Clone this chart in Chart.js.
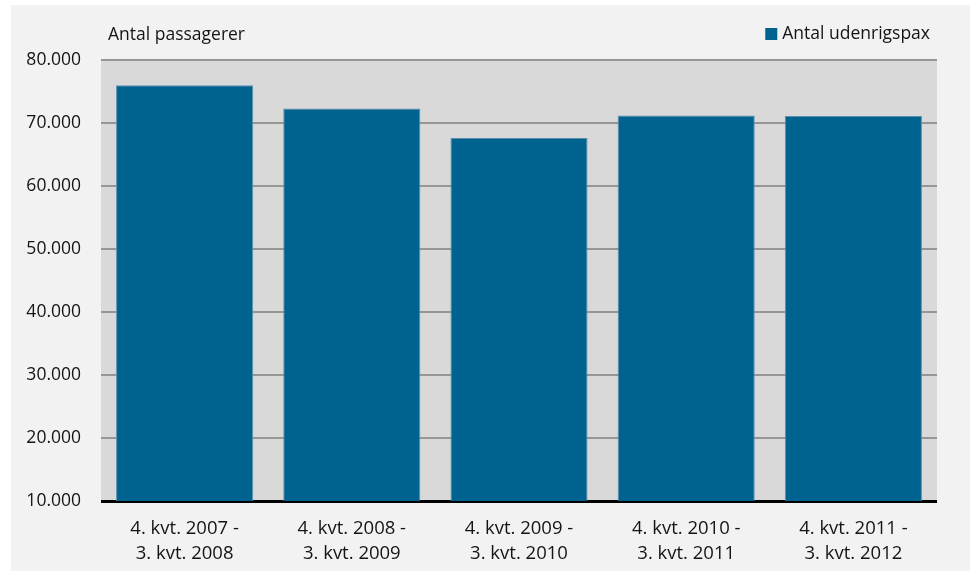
<!DOCTYPE html>
<html>
<head>
<meta charset="utf-8">
<script src="https://cdn.jsdelivr.net/npm/chart.js@4"></script>
<style>
  body { margin: 0; background: #ffffff; }
  #wrap { width: 972px; height: 571px; position: relative; }
</style>
</head>
<body>
<div id="wrap"><canvas id="chart"></canvas></div>
<script>
// Data
const categories = [
    ['4. kvt. 2007 -', '3. kvt. 2008'],
    ['4. kvt. 2008 -', '3. kvt. 2009'],
    ['4. kvt. 2009 -', '3. kvt. 2010'],
    ['4. kvt. 2010 -', '3. kvt. 2011'],
    ['4. kvt. 2011 -', '3. kvt. 2012']
];
const udenrigspax = [76000, 72300, 67600, 71200, 71100];
const seriesName = 'Antal udenrigspax';
const axisTitle = 'Antal passagerer';
const yMin = 10000;
const yMax = 80000;
const yStep = 10000;

const FONT = "'Open Sans', sans-serif";
const TEXT = '#141414';
const BAR = '#00628f';

// thousands with a dot, e.g. 80.000
function fmt(v) {
    return v.toLocaleString('de-DE');
}

// page background, plot background, title text and legend
const decor = {
    id: 'decor',
    beforeDraw(chart) {
        const { ctx, chartArea: a } = chart;
        ctx.save();
        ctx.fillStyle = '#ffffff';
        ctx.fillRect(0, 0, chart.width, chart.height);
        ctx.fillStyle = '#f2f2f2';
        ctx.fillRect(11, 5, 959, 566);
        ctx.fillStyle = '#d9d9d9';
        ctx.fillRect(a.left, a.top, a.right - a.left, a.bottom - a.top);
        ctx.restore();
    },
    afterDraw(chart) {
        const { ctx, chartArea: a } = chart;
        ctx.save();
        ctx.fillStyle = TEXT;
        ctx.font = '17.5px ' + FONT;
        ctx.textBaseline = 'middle';
        ctx.textAlign = 'left';
        ctx.fillText(axisTitle, a.left + 7, 35);

        // legend, right aligned
        ctx.textAlign = 'right';
        const tx = 930;
        ctx.fillText(seriesName, tx, 34);
        const w = ctx.measureText(seriesName).width;
        ctx.fillStyle = BAR;
        ctx.fillRect(tx - w - 17, 28, 12, 12);
        ctx.restore();
    }
};

new Chart(document.getElementById('chart'), {
    type: 'bar',
    data: {
        labels: categories,
        datasets: [{
            label: seriesName,
            data: udenrigspax,
            backgroundColor: BAR,
            borderColor: '#5a8fb0',
            borderWidth: 1,
            barPercentage: 0.82,
            categoryPercentage: 1.0
        }]
    },
    options: {
        responsive: true,
        maintainAspectRatio: false,
        animation: false,
        layout: { padding: { left: 0, right: 35, top: 60, bottom: 0 } },
        plugins: {
            legend: { display: false },
            tooltip: { enabled: false }
        },
        scales: {
            x: {
                grid: { display: false, drawTicks: false },
                border: { display: false },
                ticks: {
                    color: TEXT,
                    font: { family: FONT, size: 18.5, lineHeight: 1.35 },
                    padding: 15,
                    maxRotation: 0
                },
                afterFit(scale) { scale.height = 70; }
            },
            y: {
                min: yMin,
                max: yMax,
                grid: {
                    drawTicks: false,
                    color: (c) => c.tick && c.tick.value === yMin ? '#000000' : '#969696',
                    lineWidth: (c) => c.tick && c.tick.value === yMin ? 3 : 2
                },
                border: { display: false },
                ticks: {
                    stepSize: yStep,
                    color: TEXT,
                    font: { family: FONT, size: 17.5 },
                    padding: 20,
                    callback: (v) => fmt(v)
                },
                afterFit(scale) { scale.width = 101; }
            }
        }
    },
    plugins: [decor]
});
</script>
</body>
</html>
